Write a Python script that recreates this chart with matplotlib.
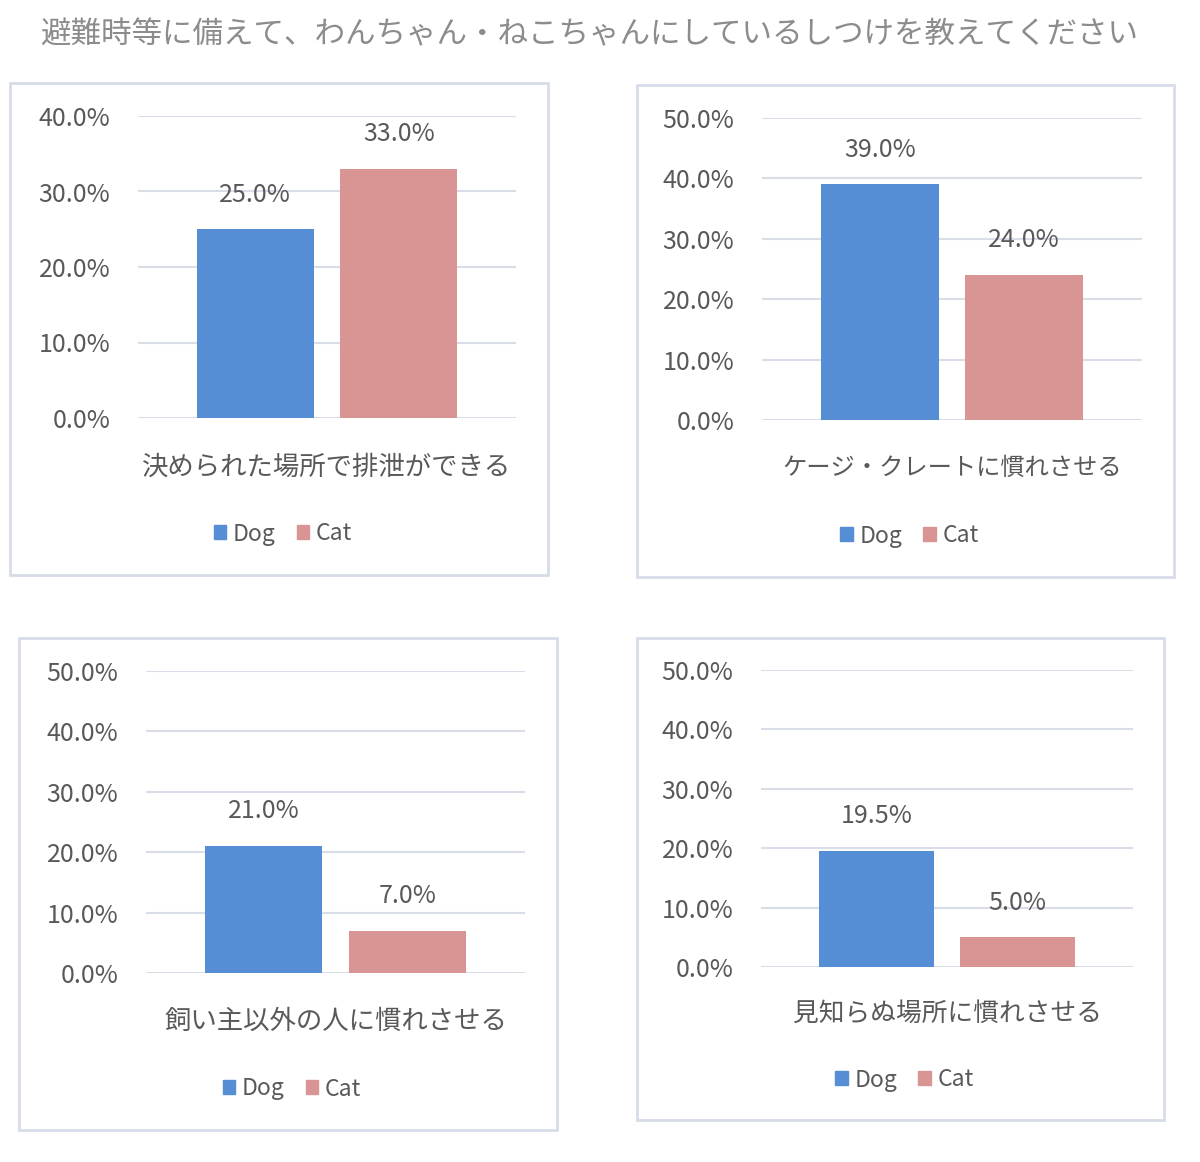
"""Pet disaster-preparedness training survey: Dog vs Cat, four small bar panels."""
import matplotlib
matplotlib.use("Agg")
import matplotlib.pyplot as plt
from matplotlib.patches import Rectangle
from matplotlib.ticker import FuncFormatter

plt.rcParams["font.family"] = ["Noto Sans CJK JP", "DejaVu Sans"]

TITLE = "避難時等に備えて、わんちゃん・ねこちゃんにしているしつけを教えてください"
SERIES = ["Dog", "Cat"]
CATEGORIES = [
    "決められた場所で排泄ができる",
    "ケージ・クレートに慣れさせる",
    "飼い主以外の人に慣れさせる",
    "見知らぬ場所に慣れさせる",
]
DOG = [25.0, 39.0, 21.0, 19.5]
CAT = [33.0, 24.0, 7.0, 5.0]
YMAX = [40, 50, 50, 50]

DOG_C = "#558ed5"
CAT_C = "#d99594"
TXT = "#595959"
GRID = "#d9dde8"
BORDER = "#d6dce8"

W, H = 1200, 1162
# pixel layout per panel: (box l, t, r, b), (axes l, top-tick y, r, zero y), label y, legend y
LAYOUT = [
    ((10, 83, 548, 575), (138, 116, 516, 418), 467, 534),
    ((637, 85, 1174, 577), (762, 118, 1142, 420), 468, 536),
    ((19, 638, 557, 1130), (146, 671, 525, 973), 1021, 1089),
    ((637, 638, 1164, 1120), (761, 670, 1133, 967), 1014, 1080),
]
LABEL_SIZE = [19, 17.5, 19, 18.5]

fig = plt.figure(figsize=(W / 100, H / 100), dpi=100)
fig.patch.set_facecolor("white")
fig.text(589 / W, 1 - 35 / H, TITLE, ha="center", va="center", fontsize=22, color="#8c8c8c")


def fx(px):
    return px / W


def fy(py):
    return 1 - py / H


for i, (box, ax_px, lab_y, leg_y) in enumerate(LAYOUT):
    bl, bt, br, bb = box
    fig.patches.append(Rectangle((fx(bl), fy(bb)), fx(br - bl), (bb - bt) / H,
                                 transform=fig.transFigure, fill=False,
                                 edgecolor=BORDER, lw=2))
    al, at, ar, ab = ax_px
    ax = fig.add_axes([fx(al), fy(ab), fx(ar - al), (ab - at) / H])
    vals = [DOG[i], CAT[i]]
    xs = [-0.19, 0.19]
    bars = ax.bar(xs, vals, width=0.31, color=[DOG_C, CAT_C], zorder=3)
    for b, v in zip(bars, vals):
        ax.annotate(f"{v:.1f}%", (b.get_x() + b.get_width() / 2, v),
                    xytext=(0, 25), textcoords="offset points",
                    ha="center", va="center", fontsize=18, color=TXT)
    ax.set_xlim(-0.5, 0.5)
    ax.set_ylim(0, YMAX[i])
    ax.set_yticks(range(0, YMAX[i] + 1, 10))
    ax.yaxis.set_major_formatter(FuncFormatter(lambda v, _: f"{v:.1f}%"))
    ax.tick_params(axis="y", length=0, pad=20, labelsize=18, labelcolor=TXT)
    ax.set_xticks([])
    ax.grid(axis="y", color=GRID, lw=1.5, zorder=0)
    for s in ax.spines.values():
        s.set_visible(False)
    ax.set_facecolor("none")

    fig.text(fx((al + ar) / 2), fy(lab_y), CATEGORIES[i], ha="center", va="center",
             fontsize=LABEL_SIZE[i], color=TXT)
    handles = [Rectangle((0, 0), 1, 1, color=c) for c in (DOG_C, CAT_C)]
    fig.legend(handles, SERIES, loc="center", bbox_to_anchor=(fx((bl + br) / 2 + 4), fy(leg_y)),
               ncol=2, frameon=False, fontsize=16.5, labelcolor=TXT,
               handlelength=0.55, handleheight=0.55, handletextpad=0.3, columnspacing=0.9)

fig.savefig("out.png", dpi=100, facecolor="white")
